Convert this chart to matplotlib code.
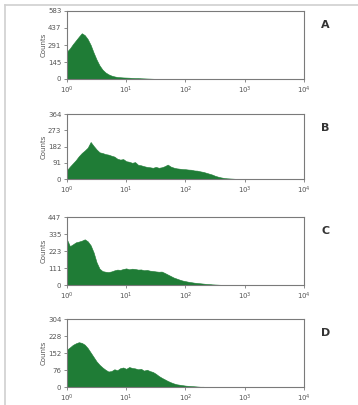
import matplotlib
matplotlib.use("Agg")
import matplotlib.pyplot as plt
from matplotlib.lines import Line2D
import numpy as np

# counts, one value every 0.05 decades from 10^0
counts_a = [235, 262, 298, 330, 362, 392, 376, 342, 292, 226, 166, 116, 80, 56,
            40, 29, 22, 17, 15, 13, 12, 11, 9, 8, 8, 6, 5, 4, 3, 2, 1, 0]
counts_b = [50, 70, 88, 106, 128, 146, 160, 176, 208, 186, 166, 150, 146, 140,
            137, 131, 126, 114, 109, 112, 100, 97, 91, 95, 80, 77, 72, 68, 66, 63,
            68, 63, 66, 72, 81, 70, 64, 60, 58, 56, 55, 53, 52, 48, 47, 43, 40, 35,
            30, 25, 18, 13, 9, 6, 4, 3, 2, 1, 1, 1, 0]
counts_c = [300, 256, 268, 281, 286, 292, 301, 288, 262, 215, 150, 108, 92, 88,
            86, 90, 97, 102, 100, 106, 110, 104, 108, 106, 102, 103, 98, 100, 95,
            93, 90, 88, 89, 80, 70, 60, 50, 43, 36, 30, 26, 22, 19, 16, 14, 12, 10,
            8, 7, 5, 4, 3, 2, 1, 1, 0]
counts_d = [168, 178, 189, 196, 201, 198, 190, 175, 155, 135, 115, 100, 88, 78,
            70, 72, 80, 76, 85, 88, 82, 90, 86, 84, 80, 82, 74, 78, 72, 68, 60, 50,
            42, 35, 28, 22, 17, 13, 11, 9, 7, 6, 5, 4, 3, 2, 2, 1, 1, 0]

yticks_a = [0, 145, 291, 437, 583]
yticks_b = [0, 91, 182, 273, 364]
yticks_c = [0, 111, 223, 335, 447]
yticks_d = [0, 76, 152, 228, 304]

panels = [
    ("A", counts_a, yticks_a, [0.187, 0.805, 0.662, 0.168]),
    ("B", counts_b, yticks_b, [0.187, 0.558, 0.662, 0.160]),
    ("C", counts_c, yticks_c, [0.187, 0.296, 0.662, 0.168]),
    ("D", counts_d, yticks_d, [0.187, 0.044, 0.662, 0.168]),
]

GREEN = "#1f7c36"
GRAY = "#7a7a7a"
TEXT = "#555555"

fig = plt.figure(figsize=(3.58, 4.05), dpi=100)

for letter, counts, yticks, rect in panels:
    ax = fig.add_axes(rect)
    xs = 10 ** (np.arange(len(counts)) * 0.05)
    ax.fill_between(xs, counts, 0, color=GREEN, lw=0.4, edgecolor=GREEN)
    ax.set_xscale("log")
    ax.set_xlim(1, 1e4)
    ax.set_ylim(0, yticks[-1])
    ax.set_xticks([1, 10, 100, 1000, 10000])
    ax.set_xticklabels([r"$10^{%d}$" % i for i in range(5)])
    ax.minorticks_off()
    ax.set_yticks(yticks)
    ax.tick_params(axis="both", labelsize=5, colors=GRAY, labelcolor=TEXT,
                   length=2.5, width=0.6, pad=1.5)
    for sp in ax.spines.values():
        sp.set_color(GRAY)
        sp.set_linewidth(0.8)
    ax.set_ylabel("Counts", fontsize=5, color=TEXT, labelpad=1)
    ax.text(1.09, 0.79, letter, transform=ax.transAxes, fontsize=8,
            fontweight="bold", color="#333333", ha="center", va="center")

# light frame lines at left and top edges of the image
fig.add_artist(Line2D([5 / 358, 5 / 358], [0, 1 - 5 / 405],
                      transform=fig.transFigure, color="#d0d0d0", lw=1.2))
fig.add_artist(Line2D([5 / 358, 1], [1 - 5 / 405, 1 - 5 / 405],
                      transform=fig.transFigure, color="#d0d0d0", lw=1.2))

fig.savefig("out.png", dpi=100)
